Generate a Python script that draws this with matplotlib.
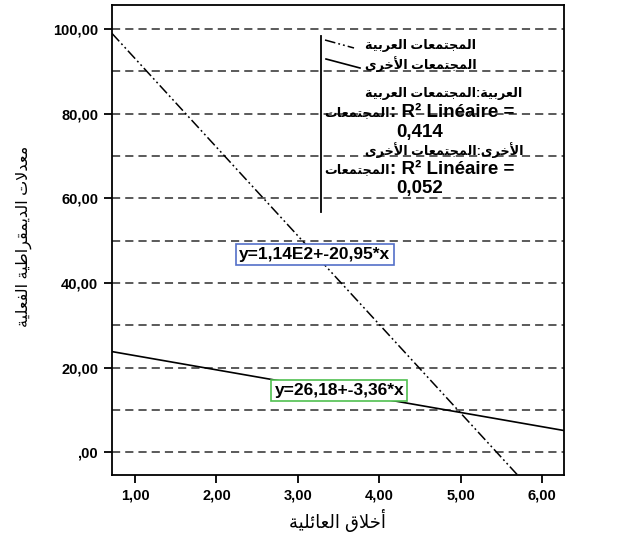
import numpy as np
import matplotlib
matplotlib.use("Agg")
import matplotlib.pyplot as plt
from matplotlib.ticker import FixedLocator, FuncFormatter
from matplotlib.patches import Rectangle

# ── DATA ──────────────────────────────────────
groups     = ['المجتمعات العربية', 'المجتمعات الأخرى']
intercepts = [114.0, 26.18]
slopes     = [-20.95, -3.36]
r2_values  = [0.414, 0.052]
eq_labels  = ['y=1,14E2+-20,95*x', 'y=26,18+-3,36*x']
x_ticks    = [1, 2, 3, 4, 5, 6]
y_ticks    = [0, 20, 40, 60, 80, 100]
y_grid     = [0, 10, 20, 30, 40, 50, 60, 70, 80, 90, 100]
x_label    = 'أخلاق العائلية'
y_label    = 'معدلات الديمقراطية الفعلية'

# ── ARABIC SHAPING (matplotlib has no bidi/shaping) ──
FORMS = {
    'ا': (0xFE8D, 2), 'أ': (0xFE83, 2), 'ب': (0xFE8F, 4), 'ة': (0xFE93, 2),
    'ت': (0xFE95, 4), 'ج': (0xFE9D, 4), 'خ': (0xFEA5, 4), 'د': (0xFEA9, 2),
    'ر': (0xFEAD, 2), 'ط': (0xFEC1, 4), 'ع': (0xFEC9, 4), 'ف': (0xFED1, 4),
    'ق': (0xFED5, 4), 'ل': (0xFEDD, 4), 'م': (0xFEE1, 4), 'ي': (0xFEF1, 4),
    'ى': (0xFEEF, 2), 'ئ': (0xFE89, 4),
    '\uFEFB': (0xFEFB, 2), '\uFEF7': (0xFEF7, 2),
}

def ar(s):
    s = s.replace('لا', '\uFEFB').replace('لأ', '\uFEF7')
    out = []
    for i, c in enumerate(s):
        if c not in FORMS:
            out.append(c)
            continue
        base, n = FORMS[c]
        prev_j = i > 0 and s[i - 1] in FORMS and FORMS[s[i - 1]][1] == 4
        next_j = n == 4 and i + 1 < len(s) and s[i + 1] in FORMS
        if prev_j and next_j:
            k = 3
        elif prev_j:
            k = 1
        elif next_j:
            k = 2
        else:
            k = 0
        out.append(chr(base + k))
    return ''.join(out[::-1])

FONT = ['Liberation Sans', 'DejaVu Sans']
plt.rcParams['font.family'] = FONT

fig = plt.figure(figsize=(6.3, 5.37), dpi=100)
fig.patch.set_facecolor('white')
W, H = 630, 537

def px(x, y):
    return (x / W, 1 - y / H)

ax = fig.add_axes([112 / W, 1 - 475 / H, 452 / W, 470 / H])
ax.set_xlim(0.717, 6.27)
ax.set_ylim(-5.4, 105.7)

# grid
for g in y_grid:
    ax.axhline(g, color='#5a5a5a', lw=1.4, dashes=(4.2, 2.6), zorder=1)

# fit lines
xs = np.linspace(0.717, 6.27, 200)
styles = [dict(ls=(0, (7, 2, 1.2, 2, 1.2, 2)), lw=1.1), dict(ls='-', lw=1.2)]
for b0, b1, st in zip(intercepts, slopes, styles):
    ax.plot(xs, b0 + b1 * xs, color='black', zorder=3, **st)

# equation boxes
eq_pos = [(3.21, 46.8), (3.51, 14.5)]
eq_col = ['#5470c8', '#50c050']
for lab, (ex, ey), ec in zip(eq_labels, eq_pos, eq_col):
    ax.text(ex, ey, lab, ha='center', va='center', fontsize=12.5, fontweight='bold',
            zorder=5, bbox=dict(boxstyle='square,pad=0.18', fc='white', ec=ec, lw=1.2))

# axes styling
for sp in ax.spines.values():
    sp.set_linewidth(1.3)
ax.xaxis.set_major_locator(FixedLocator(x_ticks))
ax.yaxis.set_major_locator(FixedLocator(y_ticks))

def fmt(v, pos):
    s = f"{v:.2f}".replace('.', ',')
    return s[1:] if s.startswith('0,') else s

ax.xaxis.set_major_formatter(FuncFormatter(fmt))
ax.yaxis.set_major_formatter(FuncFormatter(fmt))
ax.tick_params(direction='out', length=6, width=1.3, labelsize=10.5, pad=4)
for t in ax.get_xticklabels() + ax.get_yticklabels():
    t.set_fontweight('bold')

fig.text(*px(337, 521), ar(x_label), ha='center', va='center', fontsize=13)
fig.text(*px(24, 236), ar(y_label), ha='center', va='center', fontsize=11.5,
         rotation=90)

# legend
fig.add_artist(plt.Line2D([321 / W, 321 / W], [px(0, 36)[1], px(0, 212)[1]],
                          color='black', lw=1.3))
samples = [((325, 40), (354, 48)), ((326, 59), (360, 68))]
for (p0, p1), st in zip(samples, styles):
    fig.add_artist(plt.Line2D([p0[0] / W, p1[0] / W], [px(0, p0[1])[1], px(0, p1[1])[1]],
                              color='black', **st))
for g, y in zip(groups, [45, 64]):
    fig.text(*px(365, y), ar(g), ha='left', va='center', fontsize=9.2,
             fontweight='bold')

clip = Rectangle((322 / W, 0), 1, 1, transform=fig.transFigure)
for i, (g, r2) in enumerate(zip(groups, r2_values)):
    y0 = 93 + i * 57
    word = g.split()[1]
    t1 = fig.text(*px(444, y0), ar('المجتمعات ' + word) + ':' + ar(word),
                  ha='center', va='center', fontsize=9.2, fontweight='bold')
    t2 = fig.text(*px(514, y0 + 20), ': R² Linéaire =',
                  ha='right', va='center', fontsize=13.5, fontweight='bold')
    t2b = ax.annotate(ar('المجتمعات'), xy=(0, 0.5), xycoords=t2, ha='right',
                      va='center', fontsize=9.2, fontweight='bold',
                      annotation_clip=False)
    t3 = fig.text(*px(420, y0 + 39), f"{r2:.3f}".replace('.', ','),
                  ha='center', va='center', fontsize=13.5, fontweight='bold')
    for t in (t1, t2, t2b, t3):
        t.set_clip_path(clip)

fig.savefig('out.png', dpi=100, facecolor='white')
